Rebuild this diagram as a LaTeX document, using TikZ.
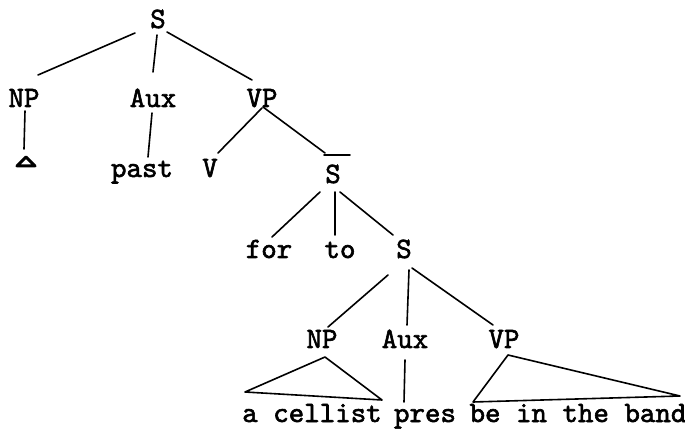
\documentclass[tikz,border=0pt]{standalone}
\usepackage{fontspec}
\newfontfamily\twfont{lmmono10-regular.otf}[FakeBold=2]
\usetikzlibrary{calc}
\begin{document}
\begin{tikzpicture}[x=1pt,y=-1pt,
  lbl/.style={font=\fontsize{29.5}{32}\twfont, inner sep=0pt, anchor=base},
  edge/.style={line width=1.6pt, line cap=round}]
\useasboundingbox[fill=white] (0,0) rectangle (685,435);
% nodes
\node[lbl] (S0) at (158,28) {S};
\node[lbl] (NP1) at (24,107) {NP};
\node[lbl] (Aux1) at (153,107) {Aux};
\node[lbl] (VP1) at (262,107) {VP};
\coordinate (tri) at (26,157);
\node[lbl] (past) at (142,177) {past};
\node[lbl] (V1) at (210,177) {V};
\node[lbl] (Sbar) at (333,183) {S};
\node[lbl] (for) at (269,258) {for};
\node[lbl] (to) at (340,258) {to};
\node[lbl] (S2) at (404,258) {S};
\node[lbl] (NP2) at (322,348) {NP};
\node[lbl] (Aux2) at (405,348) {Aux};
\node[lbl] (VP2) at (504,348) {VP};
\node[lbl] (cellist) at (312,422) {a cellist};
\node[lbl] (pres) at (425,422) {pres};
\node[lbl] (band) at (578,422) {be in the band};
% top level
\draw[edge] ($(S0.base)+(-23,5)$) -- ($(NP1.base)+(14,-32)$);
\draw[edge] ($(S0.base)+(-1,7)$) -- ($(Aux1.base)+(0,-35)$);
\draw[edge] ($(S0.base)+(9,4)$) -- ($(VP1.base)+(-10,-27)$);
\draw[edge] ($(NP1.base)+(1,4)$) -- ($(tri)+(-2,-8)$);
\draw[line width=3pt, line join=round] (tri) -- ($(tri)+(9,9)$) -- ($(tri)+(-9,9)$) -- cycle;
\draw[edge] ($(Aux1.base)+(-1,6)$) -- ($(past.base)+(6,-20)$);
\draw[edge] ($(VP1.base)+(0,1)$) -- ($(V1.base)+(8,-24)$);
\draw[edge] ($(VP1.base)+(1,0)$) -- ($(Sbar.base)+(-8,-30)$);
\draw[edge] ($(Sbar.base)+(-9,-28)$) -- ($(Sbar.base)+(17,-28)$);
% S-bar
\draw[edge] ($(Sbar.base)+(-13,9)$) -- ($(for.base)+(3,-21)$);
\draw[edge] ($(Sbar.base)+(2,9)$) -- ($(to.base)+(-5,-23)$);
\draw[edge] ($(Sbar.base)+(7,9)$) -- ($(S2.base)+(-11,-23)$);
% lower S
\draw[edge] ($(S2.base)+(-16,17)$) -- ($(NP2.base)+(6,-21)$);
\draw[edge] ($(S2.base)+(5,12)$) -- ($(Aux2.base)+(2,-23)$);
\draw[edge] ($(S2.base)+(8,10)$) -- ($(VP2.base)+(-11,-23)$);
% triangles and leaves
\draw[edge, line join=round] ($(NP2.base)+(3,9)$) -- ($(cellist.base)+(-67,-30)$) -- ($(cellist.base)+(70,-22)$) -- cycle;
\draw[edge] ($(Aux2.base)+(0,12)$) -- ($(pres.base)+(-21,-20)$);
\draw[edge, line join=round] ($(VP2.base)+(4,7)$) -- ($(band.base)+(-105,-20)$) -- ($(band.base)+(102,-26)$) -- cycle;
\end{tikzpicture}
\end{document}
